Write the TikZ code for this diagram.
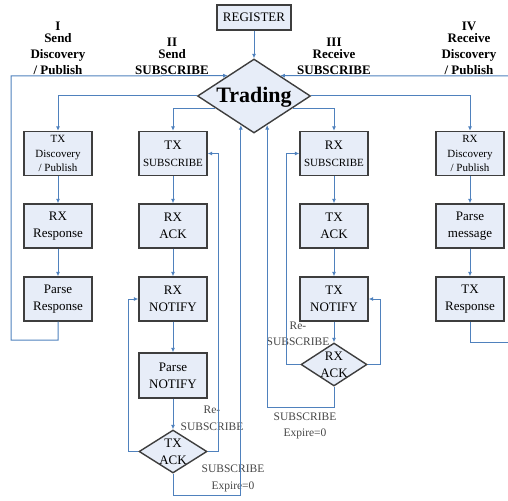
\documentclass[tikz,border=0pt]{standalone}
\usepackage{fontspec}
\setmainfont{Liberation Serif}
\usetikzlibrary{shapes.geometric,arrows.meta,calc}

\definecolor{flowblue}{RGB}{79,129,189}
\definecolor{boxfill}{RGB}{231,237,248}
\definecolor{boxline}{RGB}{62,62,62}
\definecolor{notegray}{RGB}{70,70,70}

\newcommand{\boxfont}{\fontsize{13}{17}\selectfont}
\newcommand{\smallfont}{\fontsize{11}{14.5}\selectfont}

\tikzset{
    stepbox/.style={draw=boxline, fill=boxfill, line width=1.4pt,
        minimum width=68pt, minimum height=44pt, inner sep=0pt,
        align=center, font=\boxfont},
    decision/.style={diamond, draw=boxline, fill=boxfill, line width=1.4pt,
        inner sep=0pt},
    boxtext/.style={align=center, inner sep=0pt, font=\boxfont},
    phase/.style={align=center, inner sep=0pt,
        font=\bfseries\fontsize{13}{16}\selectfont},
    note/.style={align=center, inner sep=0pt, text=notegray,
        font=\fontsize{11.5}{16.5}\selectfont},
    flow/.style={draw=flowblue, line width=1pt, ->,
        >={Latex[length=4.5pt,width=4pt]}},
    wire/.style={draw=flowblue, line width=1pt}
}

\begin{document}
\begin{tikzpicture}[x=1pt, y=-1pt]
    \useasboundingbox (0,0) rectangle (508,500);

    % Phase headings
    \node[phase, anchor=south] (ph1) at (58,75)  {I\\[-4pt]Send\\Discovery\\/ Publish};
    \node[phase, anchor=south] (ph2) at (172,75) {II\\[-4pt]Send\\SUBSCRIBE};
    \node[phase, anchor=south] (ph3) at (334,75) {III\\[-4pt]Receive\\SUBSCRIBE};
    \node[phase, anchor=south] (ph4) at (469,75) {IV\\[-4pt]Receive\\Discovery\\/ Publish};

    % Register and the central decision
    \node[stepbox, minimum width=74pt, minimum height=25pt] (reg) at (254,17.5) {REGISTER};
    \node[decision, minimum width=113pt, minimum height=74pt] (trade) at (254,96) {};
    \node[boxtext, font=\bfseries\fontsize{22}{24}\selectfont] (tradetext) at (254,97) {Trading};

    % Column I: send discovery / publish
    \node[stepbox, font=\smallfont] (txdisc) at (58,153.5) {TX\\Discovery\\/ Publish};
    \node[stepbox] (rxresp) at (58,226) {RX\\Response};
    \node[stepbox] (presp)  at (58,299) {Parse\\Response};

    % Column II: send SUBSCRIBE
    \node[stepbox] (txsub)    at (173,153.5) {TX\\{\smallfont SUBSCRIBE}};
    \node[stepbox] (rxackbox) at (173,226)   {RX\\ACK};
    \node[stepbox] (rxnot)    at (173,299)   {RX\\NOTIFY};
    \node[stepbox, minimum height=45pt] (pnot) at (173,375.5) {Parse\\NOTIFY};
    \node[decision, minimum width=68pt, minimum height=43pt] (txackdec) at (173,451.5) {};
    \node[boxtext] (txacktext) at (173,451.5) {TX\\ACK};

    % Column III: receive SUBSCRIBE
    \node[stepbox] (rxsub)    at (334,153.5) {RX\\{\smallfont SUBSCRIBE}};
    \node[stepbox] (txackbox) at (334,226)   {TX\\ACK};
    \node[stepbox] (txnot)    at (334,299)   {TX\\NOTIFY};
    \node[decision, minimum width=66pt, minimum height=43pt] (rxackdec) at (334,364.5) {};
    \node[boxtext] (rxacktext) at (334,364.5) {RX\\ACK};

    % Column IV: receive discovery / publish
    \node[stepbox, font=\smallfont] (rxdisc) at (470,153.5) {RX\\Discovery\\/ Publish};
    \node[stepbox] (pmsg)   at (470,226) {Parse\\message};
    \node[stepbox] (txresp) at (470,299) {TX\\Response};

    % Labels on the loops
    \node[note] (resub2) at (212,418.5) {Re-\\SUBSCRIBE};
    \node[note] (resub3) at (298,334)   {Re-\\SUBSCRIBE};
    \node[note] (expire2) at (233,478.5) {SUBSCRIBE\\Expire=0};
    \node[note] (expire3) at (305,426)   {SUBSCRIBE\\Expire=0};

    % Loose ends at the page border
    \coordinate (leftbot)  at (11,340);
    \coordinate (lefttop)  at (11,76);
    \coordinate (rightbot) at (508,342);
    \coordinate (righttop) at (508,76);

    % Draw the connectors
    \draw[flow] (reg.south) -- (trade.north);
    \draw[flow] (presp.south) |- (leftbot) -- (lefttop) -- ($(trade.west)!0.54!(trade.north)$);
    \draw[wire] (txresp.south) |- (rightbot);
    \draw[flow] (righttop) -- ($(trade.east)!0.54!(trade.north)$);

    \draw[flow] (trade.west) -| (txdisc.north);
    \draw[flow] ($(trade.west)!0.32!(trade.south)$) -| (txsub.north);
    \draw[flow] (trade.east) -| (rxdisc.north);
    \draw[flow] ($(trade.east)!0.32!(trade.south)$) -| (rxsub.north);

    \foreach \a/\b in {txdisc/rxresp, rxresp/presp,
                       txsub/rxackbox, rxackbox/rxnot, rxnot/pnot, pnot/txackdec,
                       rxsub/txackbox, txackbox/txnot, txnot/rxackdec,
                       rxdisc/pmsg, pmsg/txresp}
        \draw[flow] (\a.south) -- (\b.north);

    % Re-SUBSCRIBE and expiry loops
    \draw[flow] (txackdec.west) -- ++(-10,0) |- (rxnot.west);
    \draw[flow] (txackdec.east) -- ++(11,0) |- (txsub.east);
    \draw[flow] (txackdec.south) -- ++(0,22) -| ($(trade.west)!0.77!(trade.south)$);

    \draw[flow] (rxackdec.west) -- ++(-14,0) |- (rxsub.west);
    \draw[flow] (rxackdec.east) -- ++(13,0) |- (txnot.east);
    \draw[flow] (rxackdec.south) -- ++(0,21) -| ($(trade.east)!0.77!(trade.south)$);

\end{tikzpicture}
\end{document}
